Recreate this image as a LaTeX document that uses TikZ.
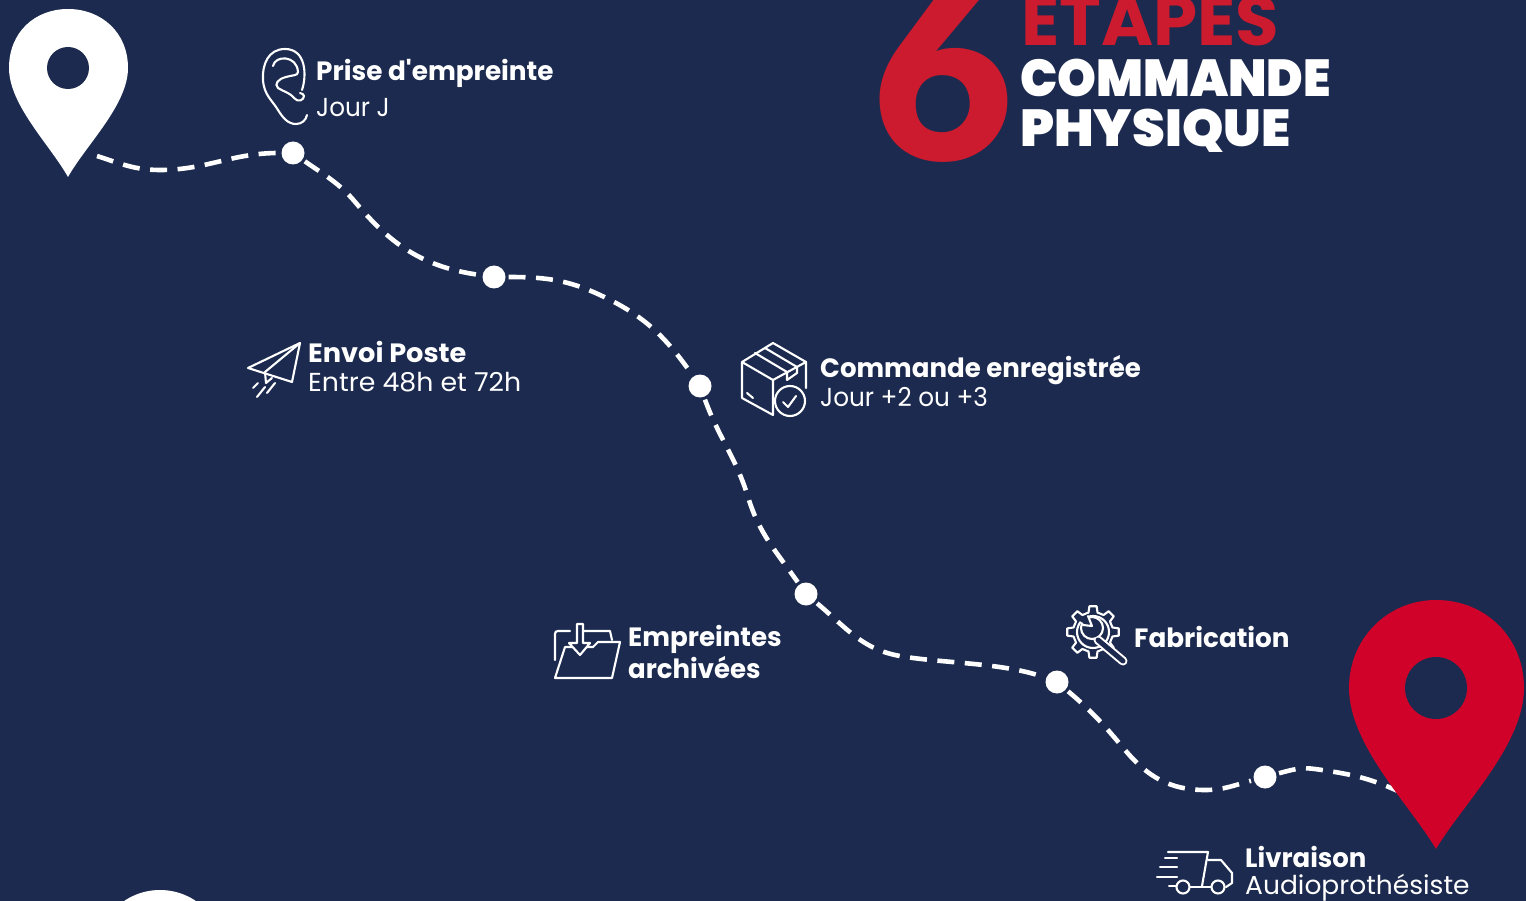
\documentclass[tikz,border=0pt]{standalone}
\usepackage{fontspec}
\setmainfont{Poppins}
\newfontfamily\popb{Poppins Bold}
\newfontfamily\popx{Poppins Black}
\newfontfamily\popk{Poppins Bold}
\newfontfamily\popl{Poppins}
\newfontfamily\sixf{Lato Black}
\definecolor{navy}{HTML}{1B2A4E}
\definecolor{pinred}{HTML}{D0022A}
\definecolor{sixred}{HTML}{CC1B2E}
\newcommand{\wdt}[2]{\scalebox{#1}[1]{#2}}
\tikzset{
  x=1pt,y=-1pt,
  stop/.style={circle,fill=white,minimum size=23pt,inner sep=0pt,outer sep=3pt},
  route/.style={white,line width=4.6pt,dash pattern=on 17pt off 10.5pt,line cap=butt},
  head/.style={anchor=base west,inner sep=0pt,text=white,font=\popb\fontsize{26.5}{26.5}\selectfont},
  sub/.style={anchor=base west,inner sep=0pt,text=white,font=\popl\fontsize{26}{26}\selectfont},
  icon/.style={white,line width=2.1pt,line cap=round,line join=round},
}
\begin{document}
\begin{tikzpicture}
\useasboundingbox (0,0) rectangle (1526,901);
\clip (0,0) rectangle (1526,901);
\fill[navy] (0,0) rectangle (1526,901);

% waypoints
\coordinate (start) at (97,156);
\coordinate (w1) at (160,170);
\node[stop] (d1) at (293,153) {};
\coordinate (w2) at (356,203);
\node[stop] (d2) at (494,277) {};
\coordinate (w3) at (600,295);
\node[stop] (d3) at (700,386) {};
\coordinate (w4) at (748,497);
\node[stop] (d4) at (806,594) {};
\coordinate (w5) at (900,656);
\node[stop] (d5) at (1057,682) {};
\coordinate (w6) at (1125,750);
\coordinate (w7) at (1205,790);
\node[stop] (d6) at (1265,777) {};
\coordinate (w8) at (1315,769);
\coordinate (finish) at (1400,792);

\draw[route] (start) to[out=-18,in=180] (w1) to[out=0,in=180] (d1);
\draw[route] (d1) to[out=-35,in=130] (w2) to[out=-50,in=172] (d2);
\draw[route] (d2) to[out=0,in=155] (w3) to[out=-25,in=125] (d3);
\draw[route] (d3) to[out=-70,in=107] (w4) to[out=-73,in=125] (d4);
\draw[route] (d4) to[out=-40,in=170] (w5) to[out=-10,in=160,looseness=.75] (d5);
\draw[route] (d5) to[out=-40,in=130] (w6) to[out=-50,in=180] (w7) to[out=0,in=195] (d6);
\draw[route] (d6) to[out=15,in=172] (w8) to[out=-8,in=155] (finish);

% white pin
\fill[white] (68,177) .. controls (50,145) and (9,105) .. (9,68)
  .. controls (9,32) and (35,9) .. (68,9)
  .. controls (101,9) and (128,32) .. (128,68)
  .. controls (128,105) and (86,145) .. (68,177) -- cycle;
\fill[navy] (68,68) circle (21);
% red pin
\fill[pinred] (1436,849) .. controls (1410,805) and (1349,745) .. (1349,688)
  .. controls (1349,638) and (1388,600) .. (1436,600)
  .. controls (1486,600) and (1524,638) .. (1524,688)
  .. controls (1524,745) and (1462,805) .. (1436,849) -- cycle;
\fill[navy] (1436,688) circle (31);
% bottom pin top
\fill[white] (160,954) circle (64);

% title
\node[anchor=base west,inner sep=0pt,text=sixred,font=\sixf\fontsize{243}{243}\selectfont] (six) at (872,161) {6};
\node[anchor=base west,inner sep=0pt,text=sixred,font=\popk\fontsize{70}{70}\selectfont] (t1) at (1021,46) {\wdt{1.01}{ETAPES}};
\node[anchor=base west,inner sep=0pt,text=white,font=\popx\fontsize{52}{52}\selectfont] (t2) at (1020,97) {\wdt{.95}{COMMANDE}};
\node[anchor=base west,inner sep=0pt,text=white,font=\popx\fontsize{52}{52}\selectfont] (t3) at (1020,147) {\wdt{1.01}{PHYSIQUE}};

% labels
\node[head] (l1) at (316,81) {\wdt{.993}{Prise d'empreinte}};
\node[sub] (s1) at (316,117) {\wdt{.95}{Jour J}};
\node[head] (l2) at (308,362) {\wdt{1.025}{Envoi Poste}};
\node[sub] (s2) at (308,391) {\wdt{1.03}{Entre 48h et 72h}};
\node[head] (l3) at (820,377) {\wdt{.983}{Commande enregistrée}};
\node[sub] (s3) at (820,406) {\wdt{.95}{Jour +2 ou +3}};
\node[head] (l4) at (628,646) {\wdt{.987}{Empreintes}};
\node[head] (l4b) at (628,678) {\wdt{.98}{archivées}};
\node[head] (l5) at (1134,647) {\wdt{.99}{Fabrication}};
\node[head] (l6) at (1245,867) {\wdt{.98}{Livraison}};
\node[sub] (s6) at (1245,894.5) {\wdt{1.02}{Audioprothésiste}};

% ear
\draw[icon] (302,90) .. controls (307,75) and (306,49) .. (285,49)
  .. controls (268,49) and (262,65) .. (263,80)
  .. controls (264,95) and (272,100) .. (278,110)
  .. controls (283,118) and (288,124) .. (296,124)
  .. controls (302,124) and (306,120) .. (307,115);
\draw[icon] (273,66) .. controls (275,55) and (297,55) .. (298,72)
  .. controls (298,76) and (292,75) .. (286,77)
  .. controls (278,79) and (274,84) .. (278,88)
  .. controls (284,92) and (289,92) .. (294,98)
  .. controls (298,103) and (304,100) .. (304,96)
  .. controls (304,94) and (302,94) .. (300,93);
% plane
\draw[icon] (300,343) -- (248,368) -- (292,382) -- cycle;
\draw[icon] (300,343) -- (265,372) -- (266,383) -- (272,378);
\draw[icon] (258,383) -- (253,388);
\draw[icon] (265,387) -- (257,397);
\draw[icon] (275,383) -- (267,393);
% box
\draw[icon] (773,343) -- (742,362) -- (742,398) -- (773,415) -- (773,380) -- (742,362);
\draw[icon] (773,343) -- (806,362) -- (806,388);
\draw[icon] (806,362) -- (773,380);
\draw[icon] (755,353) -- (787,372) -- (787,380) -- (797,373) -- (797,367) -- (765,348);
\draw[icon] (747,393) -- (753,398);
\draw[icon,fill=navy] (790,401) circle (15);
\draw[icon] (783,402) -- (788,407) -- (796,396);
% folder
\draw[icon] (555,660) -- (555,634) .. controls (555,632) and (556,631) .. (558,631) -- (570,631);
\draw[icon] (584,631) -- (610,631) -- (612,640);
\draw[icon] (555,678) -- (612,678) -- (620,642) -- (598,642) -- (593,647) -- (565,647) -- cycle;
\draw[icon,fill=navy] (577,624) -- (583,624) -- (583,643) -- (590,643) -- (580,655) -- (569,643) -- (577,643) -- cycle;
% gear
\begin{scope}[shift={(1093,632)}]
\draw[icon] (8:26) \foreach \a in {0,45,...,315}{ -- (\a+8:26) -- (\a+13:20) -- (\a+32:20) -- (\a+37:26) } -- cycle;
\draw[icon] (0,0) circle (16);
\end{scope}
\draw[white,line width=9pt,line cap=round] (1098,640) -- (1123,661);
\draw[icon,fill=navy] (1092,628) circle (11);
\draw[navy,line width=5pt,line cap=round] (1098,640) -- (1123,661);
\fill[navy] (1078,620) -- (1092,628) -- (1088,614) -- cycle;
\draw[icon] (1088,616) -- (1092,626) -- (1083,625);
% truck
\draw[icon] (1168,852) -- (1208,852) -- (1202,886);
\draw[icon] (1165,858) -- (1177,858);
\draw[icon] (1160,867) -- (1177,867);
\draw[icon] (1157,877) -- (1177,877);
\draw[icon] (1169,886) -- (1176,886);
\draw[icon] (1183,887) circle (6.5);
\draw[icon] (1218,887) circle (6.5);
\draw[icon] (1190,887) -- (1211,887);
\draw[icon] (1208,860) -- (1221,860) -- (1232,873) -- (1232,883) -- (1226,887);
\end{tikzpicture}
\end{document}
